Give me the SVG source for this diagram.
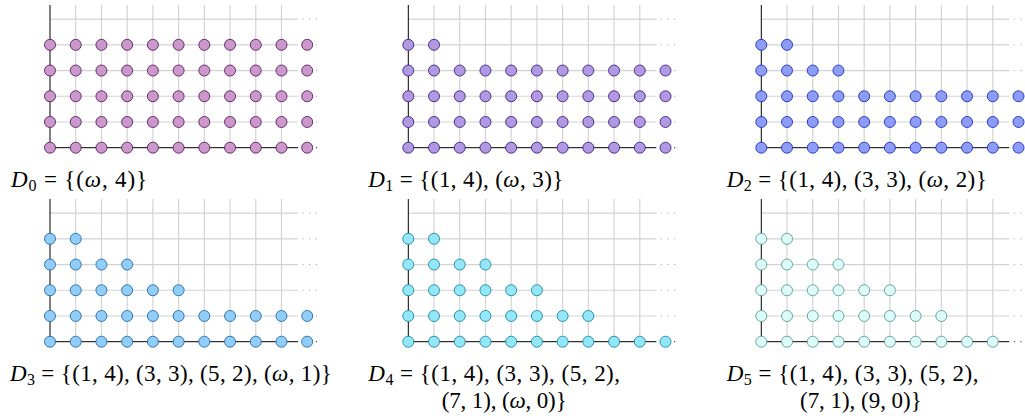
<svg xmlns="http://www.w3.org/2000/svg" width="1025" height="419" viewBox="0 0 1025 419">
<style>
.bg{fill:#ffffff}
.grid{fill:none;stroke:#d3d3d3;stroke-width:1.2}
.gdot{fill:none;stroke:#9a9a9a;stroke-width:1;stroke-dasharray:1 5.7}
.adot{fill:none;stroke:#000;stroke-width:1;stroke-dasharray:1 5.7}
.axis{fill:none;stroke:#000;stroke-width:1}
.pts{stroke-width:0.9}
.p0{fill:#CB98CB;stroke:#5E1B63}
.p1{fill:#B199E2;stroke:#3D1E8C}
.p2{fill:#8D9CF7;stroke:#1E30C0}
.p3{fill:#92CDF8;stroke:#1F6BAE}
.p4{fill:#93E7F8;stroke:#1C88A8}
.p5{fill:#DCFBF9;stroke:#5A9E9A}
.lbl{font-family:"Liberation Serif","DejaVu Serif",serif;font-size:23px;fill:#000}
.it{font-style:italic}
.sub{font-size:16px}
</style>
<defs>
<g id="frame">
<path class="grid" d="M25.72 0V-142.7M51.44 0V-142.7M77.16 0V-142.7M102.88 0V-142.7M128.6 0V-142.7M154.32 0V-142.7M180.04 0V-142.7M205.76 0V-142.7M231.48 0V-142.7M0 -25.72H248M0 -51.44H248M0 -77.16H248M0 -102.88H248M0 -128.6H248"/>
<path class="gdot" d="M252.5 -25.72H270M252.5 -51.44H270M252.5 -77.16H270M252.5 -102.88H270M252.5 -128.6H270"/>
<path class="adot" d="M252.5 0H270"/>
<path class="axis" d="M0 -142.7V0H248"/>
</g>
<g id="r2"><circle cx="0" cy="0" r="5.5"/><circle cx="25.72" cy="0" r="5.5"/></g>
<g id="r4"><use href="#r2"/><use href="#r2" x="51.44"/></g>
<g id="r6"><use href="#r4"/><use href="#r2" x="102.88"/></g>
<g id="r8"><use href="#r4"/><use href="#r4" x="102.88"/></g>
<g id="r10"><use href="#r8"/><use href="#r2" x="205.76"/></g>
<g id="r11"><use href="#r10"/><circle cx="257.2" cy="0" r="5.5"/></g>
</defs>
<rect class="bg" x="0" y="0" width="1025" height="419"/>

<g id="panel-D0" transform="translate(50,147.7)">
<use href="#frame"/>
<g class="pts p0"><use href="#r11"/><use href="#r11" y="-25.72"/><use href="#r11" y="-51.44"/><use href="#r11" y="-77.16"/><use href="#r11" y="-102.88"/></g>
</g>
<g id="panel-D1" transform="translate(408.3,147.7)">
<use href="#frame"/>
<g class="pts p1"><use href="#r11"/><use href="#r11" y="-25.72"/><use href="#r11" y="-51.44"/><use href="#r11" y="-77.16"/><use href="#r2" y="-102.88"/></g>
</g>
<g id="panel-D2" transform="translate(761.3,147.7)">
<use href="#frame"/>
<g class="pts p2"><use href="#r11"/><use href="#r11" y="-25.72"/><use href="#r11" y="-51.44"/><use href="#r4" y="-77.16"/><use href="#r2" y="-102.88"/></g>
</g>
<g id="panel-D3" transform="translate(50,341.7)">
<use href="#frame"/>
<g class="pts p3"><use href="#r11"/><use href="#r11" y="-25.72"/><use href="#r6" y="-51.44"/><use href="#r4" y="-77.16"/><use href="#r2" y="-102.88"/></g>
</g>
<g id="panel-D4" transform="translate(408.3,341.7)">
<use href="#frame"/>
<g class="pts p4"><use href="#r11"/><use href="#r8" y="-25.72"/><use href="#r6" y="-51.44"/><use href="#r4" y="-77.16"/><use href="#r2" y="-102.88"/></g>
</g>
<g id="panel-D5" transform="translate(761.3,341.7)">
<use href="#frame"/>
<g class="pts p5"><use href="#r10"/><use href="#r8" y="-25.72"/><use href="#r6" y="-51.44"/><use href="#r4" y="-77.16"/><use href="#r2" y="-102.88"/></g>
</g>

<g id="labels" class="lbl">
<text x="11" y="187" textLength="136" lengthAdjust="spacing"><tspan class="it">D</tspan><tspan class="sub" dy="3.5">0</tspan><tspan dy="-3.5"> = {(</tspan><tspan class="it">ω</tspan><tspan>, 4)}</tspan></text>
<text x="368.3" y="187" textLength="195" lengthAdjust="spacing"><tspan class="it">D</tspan><tspan class="sub" dy="3.5">1</tspan><tspan dy="-3.5"> = {(1, 4), (</tspan><tspan class="it">ω</tspan><tspan>, 3)}</tspan></text>
<text x="726.7" y="187" textLength="260" lengthAdjust="spacing"><tspan class="it">D</tspan><tspan class="sub" dy="3.5">2</tspan><tspan dy="-3.5"> = {(1, 4), (3, 3), (</tspan><tspan class="it">ω</tspan><tspan>, 2)}</tspan></text>
<text x="10" y="381" textLength="321.7" lengthAdjust="spacing"><tspan class="it">D</tspan><tspan class="sub" dy="3.5">3</tspan><tspan dy="-3.5"> = {(1, 4), (3, 3), (5, 2), (</tspan><tspan class="it">ω</tspan><tspan>, 1)}</tspan></text>
<text x="368.3" y="381" textLength="251.7" lengthAdjust="spacing"><tspan class="it">D</tspan><tspan class="sub" dy="3.5">4</tspan><tspan dy="-3.5"> = {(1, 4), (3, 3), (5, 2),</tspan></text>
<text x="441.7" y="407.5" textLength="125" lengthAdjust="spacing">(7, 1), (<tspan class="it">ω</tspan>, 0)}</text>
<text x="726.7" y="381" textLength="251.7" lengthAdjust="spacing"><tspan class="it">D</tspan><tspan class="sub" dy="3.5">5</tspan><tspan dy="-3.5"> = {(1, 4), (3, 3), (5, 2),</tspan></text>
<text x="800" y="407.5" textLength="121.7" lengthAdjust="spacing">(7, 1), (9, 0)}</text>
</g>
</svg>
